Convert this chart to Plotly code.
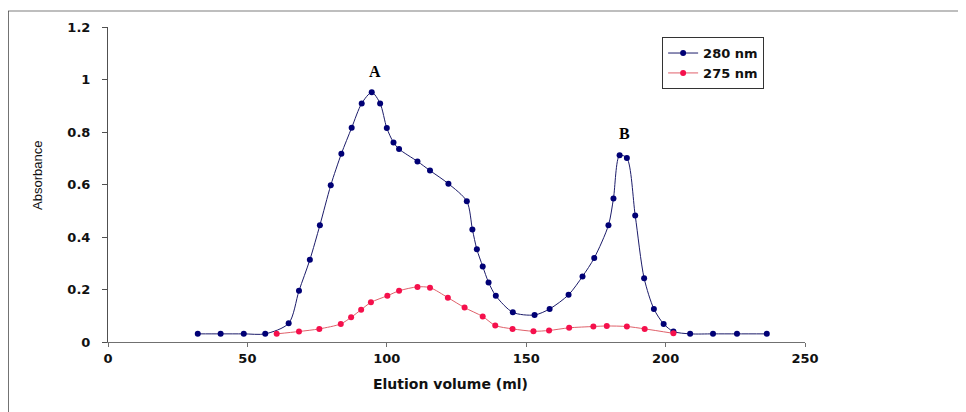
import plotly.graph_objects as go

# Elution volume (ml) and absorbance readings
x280 = [32.2, 40.4, 48.7, 56.4, 64.8, 68.5, 72.4, 76.0, 79.9, 83.7, 87.4, 91.0, 94.6, 97.6,
        100.0, 102.4, 104.4, 111.0, 115.5, 122.1, 128.7, 130.7, 132.3, 134.4, 136.5, 139.1,
        145.2, 153.0, 158.4, 165.2, 170.2, 174.4, 179.5, 181.3, 183.5, 186.1, 189.1, 192.3,
        195.8, 199.3, 202.8, 208.8, 217.0, 225.6, 236.3]
y280 = [0.031, 0.031, 0.031, 0.031, 0.071, 0.195, 0.313, 0.445, 0.597, 0.717, 0.816, 0.909,
        0.951, 0.909, 0.815, 0.760, 0.735, 0.688, 0.653, 0.603, 0.536, 0.429, 0.353, 0.288,
        0.227, 0.176, 0.113, 0.103, 0.126, 0.180, 0.250, 0.320, 0.445, 0.547, 0.711, 0.701,
        0.482, 0.243, 0.126, 0.069, 0.040, 0.031, 0.031, 0.031, 0.031]

x275 = [60.5, 68.5, 75.8, 83.5, 87.2, 90.8, 94.3, 100.2, 104.4, 111.0, 115.5, 121.9, 127.9,
        134.4, 138.9, 145.1, 152.6, 158.2, 165.4, 174.1, 178.9, 186.1, 192.5, 202.8]
y275 = [0.031, 0.040, 0.050, 0.069, 0.094, 0.123, 0.151, 0.176, 0.195, 0.210, 0.207, 0.169,
        0.131, 0.097, 0.063, 0.050, 0.041, 0.044, 0.054, 0.059, 0.061, 0.059, 0.050, 0.033]

series_names = ["280 nm", "275 nm"]
peak_labels = ["A", "B"]
peak_x = [95.8, 185.4]
peak_y = [1.03, 0.796]

x_ticks = [0, 50, 100, 150, 200, 250]
y_ticks = [0, 0.2, 0.4, 0.6, 0.8, 1, 1.2]
y_tick_text = ["0", "0.2", "0.4", "0.6", "0.8", "1", "1.2"]

tick_font = dict(family="DejaVu Sans", size=13, color="#111111", weight="bold")

fig = go.Figure()
fig.add_trace(go.Scatter(
    x=x280, y=y280, name=series_names[0], mode="lines+markers",
    line=dict(color="#1c1c6a", width=1, shape="spline", smoothing=0.8),
    marker=dict(color="#000075", size=6, symbol="circle"),
))
fig.add_trace(go.Scatter(
    x=x275, y=y275, name=series_names[1], mode="lines+markers",
    line=dict(color="#e0606a", width=1, shape="spline", smoothing=0.8),
    marker=dict(color="#f5104c", size=6, symbol="circle"),
))

for lab, px, py in zip(peak_labels, peak_x, peak_y):
    fig.add_annotation(x=px, y=py, text=lab, showarrow=False, xref="x", yref="y",
                       font=dict(family="Liberation Serif", size=16, color="#000000", weight="bold"))

# axis titles
fig.add_annotation(x=0.491, y=-0.132, xref="paper", yref="paper", text="Elution volume (ml)",
                   showarrow=False, yanchor="middle",
                   font=dict(family="DejaVu Sans", size=14, color="#111111", weight="bold"))
fig.add_annotation(x=-0.102, y=0.53, xref="paper", yref="paper", text="Absorbance",
                   showarrow=False, textangle=-90, xanchor="center",
                   font=dict(family="Liberation Sans", size=13, color="#111111"))

# outer frame (chart-area border)
fig.add_shape(type="line", xref="paper", yref="paper", x0=-0.1435, x1=1.24, y0=1.0505, y1=1.0505,
              line=dict(color="#a8a8a8", width=1.5))
fig.add_shape(type="line", xref="paper", yref="paper", x0=-0.1435, x1=-0.1435, y0=1.0505, y1=-0.25,
              line=dict(color="#404040", width=1.5))

# page body adds an 8px offset, so the figure is 958x404 to fill the 966x412 window
fig.update_layout(
    width=958, height=404,
    margin=dict(l=100, r=161, t=17, b=70),
    paper_bgcolor="white", plot_bgcolor="white",
    showlegend=True,
    legend=dict(x=0.795, y=0.968, xanchor="left", yanchor="top",
                bordercolor="#333333", borderwidth=1, bgcolor="white",
                font=dict(family="DejaVu Sans", size=13, color="#111111", weight="bold"),
                tracegroupgap=0, itemwidth=30),
    font=dict(family="DejaVu Sans"),
)
fig.update_xaxes(range=[0, 250], tickvals=x_ticks, showgrid=False, zeroline=False,
                 showline=True, linecolor="#707070", linewidth=1,
                 ticks="outside", ticklen=4, tickcolor="#707070",
                 tickfont=tick_font, ticklabelstandoff=0)
fig.update_yaxes(range=[0, 1.2], tickvals=y_ticks, ticktext=y_tick_text, showgrid=False,
                 zeroline=False, showline=True, linecolor="#505050", linewidth=1,
                 ticks="outside", ticklen=5, tickcolor="#505050",
                 tickfont=tick_font, ticklabelstandoff=9)

fig.write_html("out.html")
